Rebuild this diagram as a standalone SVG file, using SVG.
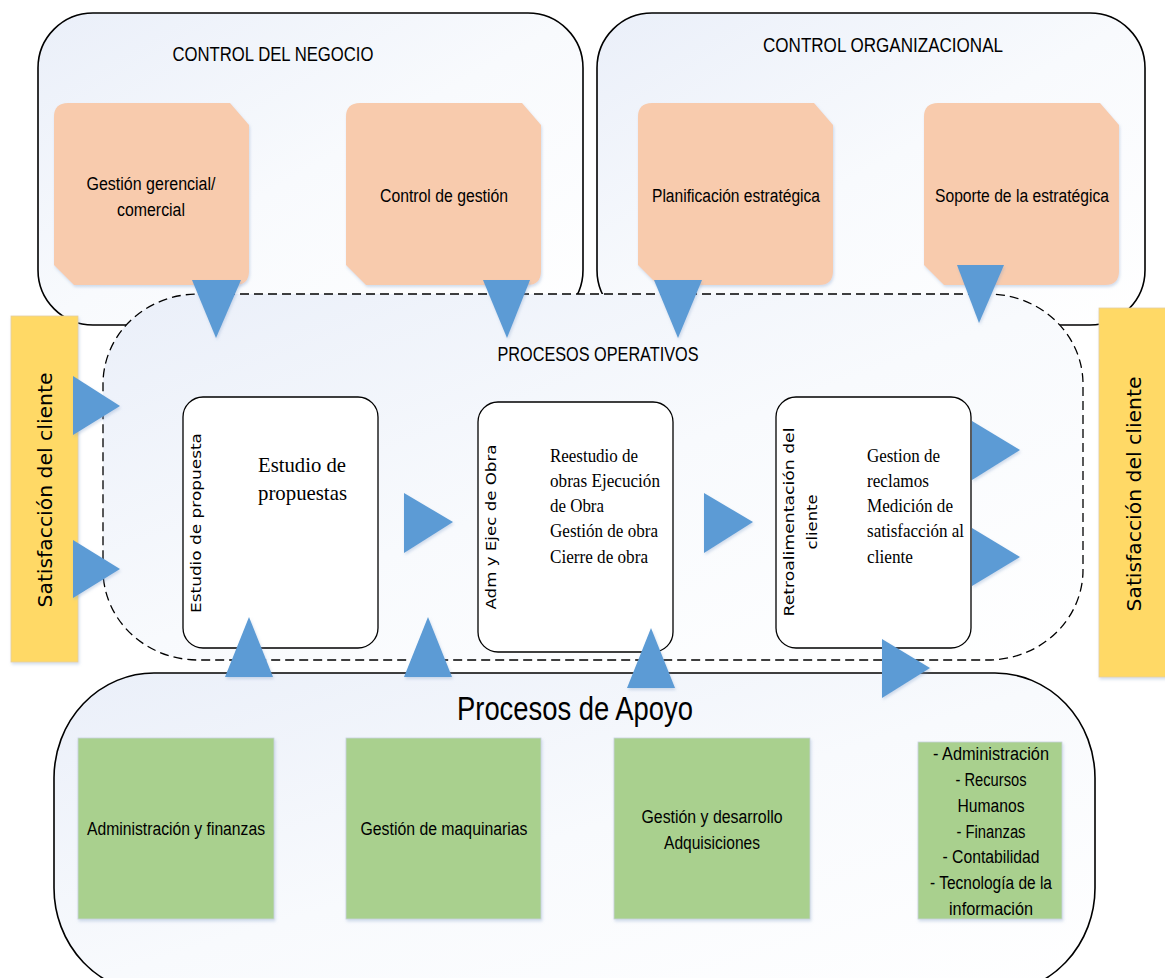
<svg xmlns="http://www.w3.org/2000/svg" width="1165" height="978" viewBox="0 0 1165 978">
  <defs>
    <linearGradient id="panelFill" x1="0" y1="0" x2="1" y2="1">
      <stop offset="0" stop-color="#eaeff9"/>
      <stop offset="0.5" stop-color="#f8fafd"/>
      <stop offset="1" stop-color="#ffffff"/>
    </linearGradient>
    <filter id="soft" x="-10%" y="-10%" width="130%" height="130%">
      <feDropShadow dx="1" dy="2" stdDeviation="1.6" flood-color="#7f9cc8" flood-opacity="0.35"/>
    </filter>
    <!-- orange card: rounded top-left / bottom-right, snipped top-right / bottom-left -->
    <path id="card" d="M14,0 H176 L195,22 V168 Q195,182 181,182 H20 L0,162 V14 Q0,0 14,0 Z"/>
    <style>
      .panel { fill: url(#panelFill); stroke: #000; stroke-width: 1.6; }
      .dashed { fill: url(#panelFill); stroke: #000; stroke-width: 1.3; stroke-dasharray: 9 5; }
      .orange { fill: #f8cbad; filter: url(#soft); }
      .green { fill: #a9d08e; stroke: #c9d3dc; stroke-width: 0.8; filter: url(#soft); }
      .yellow { fill: #ffd966; stroke: #e3cfa0; stroke-width: 0.8; filter: url(#soft); }
      .proc { fill: #ffffff; stroke: #000; stroke-width: 1.3; }
      .arrow { fill: #5b9bd5; filter: url(#soft); }
      .cal { font-family: "Liberation Sans Narrow", "Liberation Sans", Arial, sans-serif; fill: #000; text-anchor: middle; }
      .head { font-size: 20px; }
      .lbl { font-size: 18px; }
      .big { font-size: 33px; }
      .serif { font-family: "Liberation Serif", "Times New Roman", serif; fill: #000; }
      .vert { font-family: "DejaVu Sans", Verdana, sans-serif; fill: #000; text-anchor: middle; }
    </style>
  </defs>

  <!-- top containers -->
  <g id="control-negocio">
    <rect class="panel" x="38" y="13" width="545" height="312" rx="55" ry="55"/>
    <text class="cal head" x="273" y="61" textLength="201" lengthAdjust="spacingAndGlyphs">CONTROL DEL NEGOCIO</text>
  </g>
  <g id="control-organizacional">
    <rect class="panel" x="597" y="13" width="548" height="312" rx="55" ry="55"/>
    <text class="cal head" x="883" y="52" textLength="240" lengthAdjust="spacingAndGlyphs">CONTROL ORGANIZACIONAL</text>
  </g>

  <!-- operative processes container -->
  <g id="procesos-operativos">
    <rect class="dashed" x="103" y="294" width="980" height="366" rx="95" ry="90"/>
    <text class="cal head" x="598" y="361" textLength="201" lengthAdjust="spacingAndGlyphs">PROCESOS OPERATIVOS</text>
  </g>

  <!-- support processes container -->
  <g id="procesos-apoyo">
    <rect class="panel" x="54" y="673" width="1041" height="320" rx="100" ry="105"/>
    <text class="cal big" x="575" y="720" textLength="236" lengthAdjust="spacingAndGlyphs">Procesos de Apoyo</text>
  </g>

  <!-- customer satisfaction bars -->
  <g id="satisfaccion-izq">
    <rect class="yellow" x="11" y="316" width="67" height="346"/>
    <text class="vert" font-size="20" transform="translate(52,490) rotate(-90)" textLength="235" lengthAdjust="spacingAndGlyphs">Satisfacción del cliente</text>
  </g>
  <g id="satisfaccion-der">
    <rect class="yellow" x="1099" y="308" width="70" height="369"/>
    <text class="vert" font-size="20" transform="translate(1141,494) rotate(-90)" textLength="235" lengthAdjust="spacingAndGlyphs">Satisfacción del cliente</text>
  </g>

  <!-- strategic cards -->
  <g id="gestion-gerencial">
    <use href="#card" class="orange" x="54" y="103"/>
    <text class="cal lbl" x="151" y="190" textLength="129" lengthAdjust="spacingAndGlyphs">Gestión gerencial/</text>
    <text class="cal lbl" x="151" y="216" textLength="68" lengthAdjust="spacingAndGlyphs">comercial</text>
  </g>
  <g id="control-gestion">
    <use href="#card" class="orange" x="346" y="103"/>
    <text class="cal lbl" x="444" y="202" textLength="128" lengthAdjust="spacingAndGlyphs">Control de gestión</text>
  </g>
  <g id="planificacion">
    <use href="#card" class="orange" x="638" y="103"/>
    <text class="cal lbl" x="736" y="202" textLength="168" lengthAdjust="spacingAndGlyphs">Planificación estratégica</text>
  </g>
  <g id="soporte">
    <use href="#card" class="orange" x="924" y="103"/>
    <text class="cal lbl" x="1022" y="202" textLength="174" lengthAdjust="spacingAndGlyphs">Soporte de la estratégica</text>
  </g>

  <!-- operative process boxes -->
  <g id="estudio-propuesta">
    <rect class="proc" x="183" y="397" width="195" height="251" rx="20" ry="20"/>
    <text class="vert" font-size="14" transform="translate(201,523) rotate(-90)" textLength="180" lengthAdjust="spacingAndGlyphs">Estudio de propuesta</text>
    <text class="serif" font-size="21" x="258" y="472" textLength="88" lengthAdjust="spacingAndGlyphs">Estudio de</text>
    <text class="serif" font-size="21" x="258" y="500" textLength="89" lengthAdjust="spacingAndGlyphs">propuestas</text>
  </g>
  <g id="adm-ejec-obra">
    <rect class="proc" x="478" y="402" width="195" height="250" rx="20" ry="20"/>
    <text class="vert" font-size="14" transform="translate(496,527) rotate(-90)" textLength="165" lengthAdjust="spacingAndGlyphs">Adm y Ejec de Obra</text>
    <g class="serif" font-size="18">
      <text x="550" y="462" textLength="88" lengthAdjust="spacingAndGlyphs">Reestudio de</text>
      <text x="550" y="487" textLength="110" lengthAdjust="spacingAndGlyphs">obras Ejecución</text>
      <text x="550" y="512" textLength="54" lengthAdjust="spacingAndGlyphs">de Obra</text>
      <text x="550" y="537" textLength="108" lengthAdjust="spacingAndGlyphs">Gestión de obra</text>
      <text x="550" y="563" textLength="98" lengthAdjust="spacingAndGlyphs">Cierre de obra</text>
    </g>
  </g>
  <g id="retroalimentacion">
    <rect class="proc" x="776" y="397" width="195" height="251" rx="20" ry="20"/>
    <text class="vert" font-size="14" transform="translate(794,522) rotate(-90)" textLength="189" lengthAdjust="spacingAndGlyphs">Retroalimentación del</text>
    <text class="vert" font-size="14" transform="translate(817,522) rotate(-90)" textLength="55" lengthAdjust="spacingAndGlyphs">cliente</text>
    <g class="serif" font-size="18">
      <text x="867" y="462" textLength="73" lengthAdjust="spacingAndGlyphs">Gestion de</text>
      <text x="867" y="487" textLength="62" lengthAdjust="spacingAndGlyphs">reclamos</text>
      <text x="867" y="512" textLength="86" lengthAdjust="spacingAndGlyphs">Medición de</text>
      <text x="867" y="537" textLength="97" lengthAdjust="spacingAndGlyphs">satisfacción al</text>
      <text x="867" y="563" textLength="46" lengthAdjust="spacingAndGlyphs">cliente</text>
    </g>
  </g>

  <!-- support process cards -->
  <g id="admin-finanzas">
    <rect class="green" x="78" y="738" width="196" height="181"/>
    <text class="cal lbl" x="176" y="835" textLength="178" lengthAdjust="spacingAndGlyphs">Administración y finanzas</text>
  </g>
  <g id="gestion-maquinarias">
    <rect class="green" x="346" y="738" width="195" height="181"/>
    <text class="cal lbl" x="444" y="835" textLength="167" lengthAdjust="spacingAndGlyphs">Gestión de maquinarias</text>
  </g>
  <g id="gestion-desarrollo">
    <rect class="green" x="614" y="738" width="196" height="181"/>
    <text class="cal lbl" x="712" y="823" textLength="141" lengthAdjust="spacingAndGlyphs">Gestión y desarrollo</text>
    <text class="cal lbl" x="712" y="849" textLength="96" lengthAdjust="spacingAndGlyphs">Adquisiciones</text>
  </g>
  <g id="areas-apoyo">
    <rect class="green" x="918" y="742" width="144" height="177"/>
    <g class="cal lbl">
      <text x="991" y="760" textLength="116" lengthAdjust="spacingAndGlyphs">- Administración</text>
      <text x="991" y="786" textLength="71" lengthAdjust="spacingAndGlyphs">- Recursos</text>
      <text x="991" y="812" textLength="67" lengthAdjust="spacingAndGlyphs">Humanos</text>
      <text x="991" y="838" textLength="69" lengthAdjust="spacingAndGlyphs">- Finanzas</text>
      <text x="991" y="863" textLength="97" lengthAdjust="spacingAndGlyphs">- Contabilidad</text>
      <text x="991" y="889" textLength="122" lengthAdjust="spacingAndGlyphs">- Tecnología de la</text>
      <text x="991" y="915" textLength="84" lengthAdjust="spacingAndGlyphs">información</text>
    </g>
  </g>

  <!-- flow arrows -->
  <g id="connectors">
    <!-- control to operations -->
    <polygon class="arrow" points="192,280 241,280 216,338"/>
    <polygon class="arrow" points="483,280 530,280 507,338"/>
    <polygon class="arrow" points="654,280 702,280 678,338"/>
    <polygon class="arrow" points="957,265 1004,265 979,323"/>
    <!-- satisfaction into operations -->
    <polygon class="arrow" points="73,376 120,406 73,435"/>
    <polygon class="arrow" points="73,540 120,569 73,598"/>
    <!-- between operative steps -->
    <polygon class="arrow" points="404,493 453,522 404,553"/>
    <polygon class="arrow" points="704,493 753,522 704,553"/>
    <!-- operations to satisfaction -->
    <polygon class="arrow" points="972,421 1020,450 972,480"/>
    <polygon class="arrow" points="972,528 1020,557 972,586"/>
    <!-- support to operations -->
    <polygon class="arrow" points="225,677 273,677 249,617"/>
    <polygon class="arrow" points="404,677 452,677 428,617"/>
    <polygon class="arrow" points="627,688 675,688 651,628"/>
    <polygon class="arrow" points="882,639 930,668 882,698"/>
  </g>
</svg>
